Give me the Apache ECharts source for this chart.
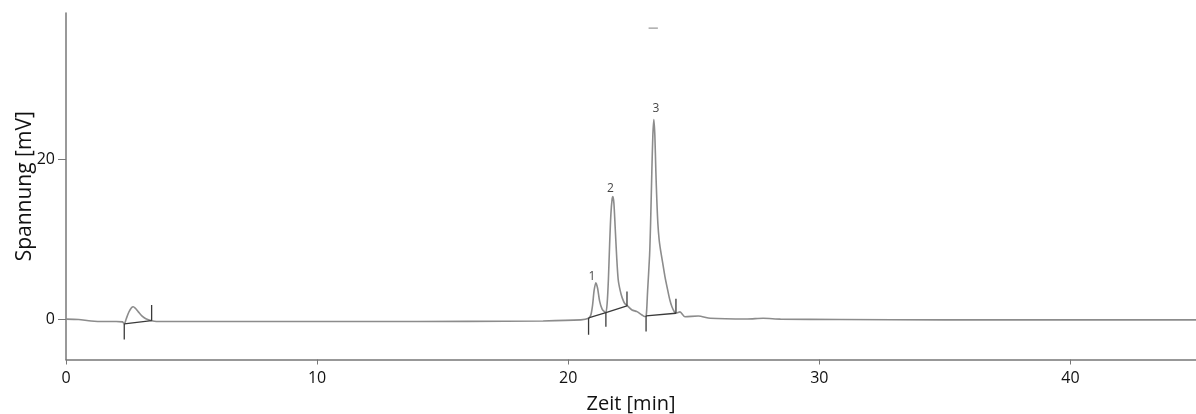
<!DOCTYPE html>
<html>
<head>
<meta charset="utf-8">
<script src="https://cdn.jsdelivr.net/npm/echarts@6/dist/echarts.min.js"></script>
<style>
  html, body { margin: 0; padding: 0; background: #fff; }
  #chart { width: 1196px; height: 414px; }
</style>
</head>
<body>
<div id="chart"></div>
<script>
// Detector trace: [time (min), voltage (mV)]
const trace = [
  [0, 0.05], [0.5, 0.0], [1.0, -0.18], [1.5, -0.25], [2.0, -0.25], [2.25, -0.3], [2.32, -0.56],
  [2.4, 0.1], [2.5, 0.9], [2.6, 1.45], [2.68, 1.6], [2.76, 1.4], [2.88, 0.95], [3.02, 0.45],
  [3.18, 0.1], [3.41, -0.15], [3.6, -0.25], [5, -0.25], [8, -0.25], [12, -0.25], [16, -0.23],
  [19, -0.18], [20.5, -0.05], [20.81, 0.15], [20.9, 0.55], [20.97, 1.8], [21.03, 3.6],
  [21.1, 4.6], [21.17, 3.9], [21.25, 2.3], [21.35, 1.3], [21.45, 0.95], [21.5, 0.85],
  [21.55, 2.0], [21.6, 5.0], [21.65, 9.5], [21.7, 13.2], [21.75, 15.1], [21.78, 15.35],
  [21.82, 14.5], [21.87, 11.5], [21.93, 7.8], [21.99, 5.0], [22.07, 3.6], [22.15, 2.7],
  [22.25, 2.0], [22.36, 1.7], [22.54, 1.19], [22.74, 0.98], [22.94, 0.56], [23.04, 0.38],
  [23.1, 0.44], [23.13, 1.5], [23.16, 3.5], [23.24, 8.0], [23.28, 12.0], [23.33, 18.5],
  [23.37, 23.0], [23.41, 25.0], [23.45, 23.0], [23.49, 18.5], [23.53, 14.8], [23.57, 12.0],
  [23.62, 10.0], [23.68, 8.6], [23.75, 7.3], [23.85, 5.4], [23.96, 3.7], [24.05, 2.4],
  [24.13, 1.6], [24.22, 1.0], [24.29, 0.8], [24.45, 0.95], [24.65, 0.35], [25.18, 0.44],
  [25.66, 0.15], [27.13, 0.06], [27.76, 0.15], [28.45, 0.05], [30.84, 0.0], [35, -0.05],
  [40, -0.05], [45, -0.05]
];

// Integration baselines drawn under each peak group
const baselines = [
  [[2.32, -0.56], [3.41, -0.15]],
  [[20.81, 0.2], [21.5, 0.85], [22.34, 1.7]],
  [[23.1, 0.44], [24.29, 0.78]]
];

// Peak start/end markers: [time, from mV, to mV]
const markers = [
  [2.32, -0.56, -2.5], [3.41, 1.8, -0.15],
  [20.81, 0.2, -1.9], [21.5, 0.85, -0.9], [22.34, 1.7, 3.5],
  [23.1, 0.44, -1.5], [24.29, 0.78, 2.6]
];

// Peak numbers: [time, mV, label]
const peakLabels = [
  [20.94, 5.35, '1'],
  [21.68, 16.4, '2'],
  [23.49, 26.4, '3']
];

// Short stray stroke near the top of the plot
const topDash = [[23.2, 36.4], [23.57, 36.4]];

const xTicks = [0, 10, 20, 30, 40];
const yTicks = [0, 20];

const font = '"Open Sans", "Noto Sans", sans-serif';
const dark = '#3a3a3a';

const series = [
  {
    type: 'line', data: trace, showSymbol: false, smooth: 0.25,
    lineStyle: { color: '#8c8c8c', width: 1.6 }, z: 2, silent: true
  },
  {
    type: 'line', data: topDash, showSymbol: false,
    lineStyle: { color: '#9a9a9a', width: 1.2 }, silent: true
  }
];
baselines.forEach(seg => series.push({
  type: 'line', data: seg, showSymbol: false,
  lineStyle: { color: dark, width: 1.3 }, z: 3, silent: true
}));
markers.forEach(m => series.push({
  type: 'line', data: [[m[0], m[1]], [m[0], m[2]]], showSymbol: false,
  lineStyle: { color: dark, width: 1.3 }, z: 3, silent: true
}));
series.push({
  type: 'scatter', symbolSize: 0, silent: true,
  data: peakLabels.map(p => ({ value: [p[0], p[1]], name: p[2] })),
  label: {
    show: true, position: 'inside', formatter: '{b}',
    fontFamily: font, fontSize: 12, color: '#111'
  }
});

const chart = echarts.init(document.getElementById('chart'));
chart.setOption({
  backgroundColor: '#fff',
  animation: false,
  grid: { left: 66, right: 0, top: 13, bottom: 54.5, outerBoundsMode: 'none', containLabel: false },
  xAxis: {
    type: 'value', min: 0, max: 45,
    name: 'Zeit [min]', nameLocation: 'middle', nameGap: 35, nameMoveOverlap: false,
    nameTextStyle: { fontFamily: font, fontSize: 20, color: '#111' },
    axisLine: { show: true, onZero: false, lineStyle: { color: '#777', width: 1.5 } },
    axisTick: { show: true, length: 5, customValues: xTicks, lineStyle: { color: '#777' } },
    axisLabel: { customValues: xTicks, margin: 11, fontFamily: font, fontSize: 16, color: '#111' },
    splitLine: { show: false }
  },
  yAxis: {
    type: 'value', min: -5, max: 38.3,
    name: 'Spannung [mV]', nameLocation: 'middle', nameGap: 30, nameRotate: 90, nameMoveOverlap: false,
    nameTextStyle: { fontFamily: font, fontSize: 21, color: '#111' },
    axisLine: { show: true, onZero: false, lineStyle: { color: '#777', width: 1.5 } },
    axisTick: { show: true, length: 8, customValues: yTicks, lineStyle: { color: '#777' } },
    axisLabel: { customValues: yTicks, margin: 11, fontFamily: font, fontSize: 16, color: '#111' },
    splitLine: { show: false }
  },
  series: series
});
</script>
</body>
</html>
